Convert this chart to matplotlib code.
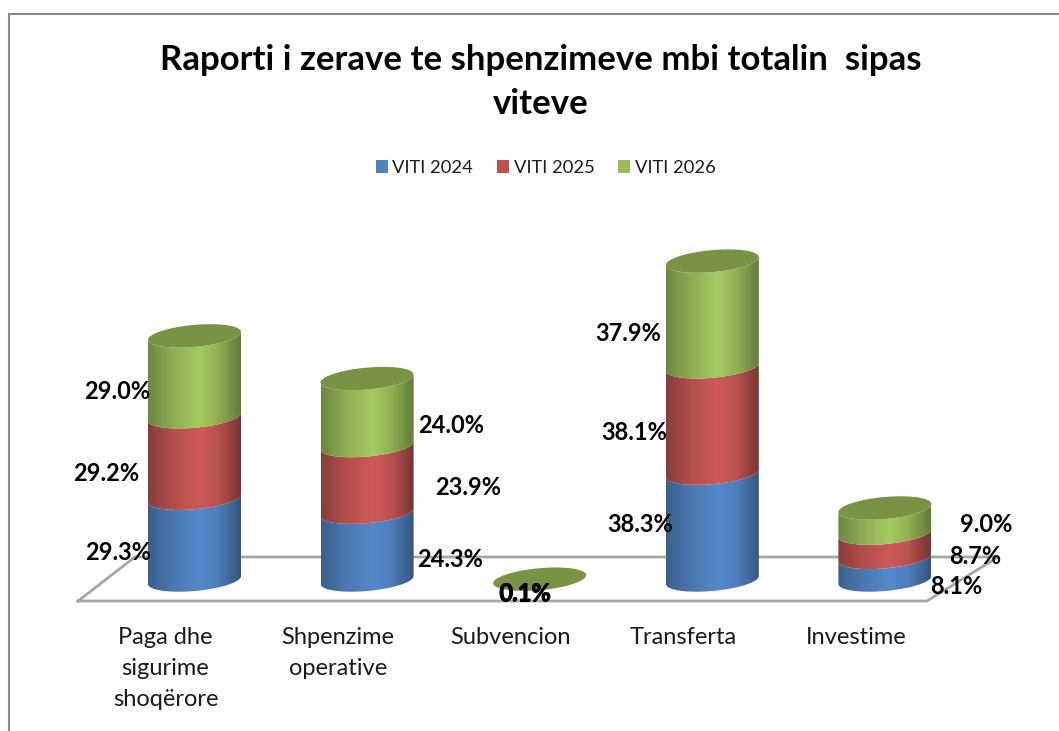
import numpy as np
import matplotlib
matplotlib.use('Agg')
import matplotlib.pyplot as plt
from matplotlib.path import Path
from matplotlib.patches import PathPatch, Patch
from matplotlib.colors import LinearSegmentedColormap

W, H = 1059, 731

categories = ['Paga dhe\nsigurime\nshoqërore', 'Shpenzime\noperative', 'Subvencion', 'Transferta', 'Investime']
years = ['VITI 2024', 'VITI 2025', 'VITI 2026']
v2024 = [29.3, 24.3, 0.1, 38.3, 8.1]
v2025 = [29.2, 23.9, 0.1, 38.1, 8.7]
v2026 = [29.0, 24.0, 0.1, 37.9, 9.0]
title = 'Raporti i zerave te shpenzimeve mbi totalin  sipas\nviteve'

# label offsets from the bar centre in pixels, x then y
off2024 = [(-76, 13), (83, 13), (-15, 14), (-72, -2), (71, 18)]
off2025 = [(-88, 16), (101, 9), (-15, 14.5), (-78, 13), (90, 11)]
off2026 = [(-77, 15), (84, 13), (-14.5, 14), (-84, 20), (101, 4)]

shades = {
    'VITI 2024': ['#3a5f8f', '#4a76ae', '#5589cc', '#4f7fbc', '#34567f'],
    'VITI 2025': ['#853e3c', '#b04e4b', '#cf5a57', '#bb5350', '#763634'],
    'VITI 2026': ['#6b8840', '#8cab52', '#a6cb62', '#92b155', '#617b3a'],
}
legend_col = ['#4f81bd', '#c0504d', '#9bbb59']
top_col = '#7a9244'

plt.rcParams['font.family'] = ['Lato', 'DejaVu Sans']

# pixel scale of the plot
x0, dx = 194.5, 172.6
y0, dy = 580.0, 2.79
half_w = 46.5 / dx
semi_b = 11.0 / dy
tilt = 4.0 / dy

fig = plt.figure(figsize=(W / 100, H / 100), dpi=100)
# chrome in pixel coordinates
bg = fig.add_axes([0, 0, 1, 1])
bg.set_xlim(0, W)
bg.set_ylim(H, 0)
bg.axis('off')
bg.plot([8.5, 8.5, W], [H, 14, 14], color='#8c8c8c', lw=1.5, solid_joinstyle='miter')
floor = '#a6a6a6'
bg.plot([78, 135, 998, 927, 78], [601, 557, 557, 601, 601], color=floor, lw=2)

ax = fig.add_axes([0, 0, 1, 1], zorder=2)
ax.patch.set_alpha(0)
ax.axis('off')


def rim(x, y, t):
    return x + half_w * np.cos(t), y + semi_b * np.sin(t) + tilt * np.cos(t)


def draw_segment(x, low, high, colors):
    # sides: lower rim front half, upper rim front half back again
    t = np.linspace(np.pi, 2 * np.pi, 60)
    xl, yl = rim(x, low, t)
    xh, yh = rim(x, high, t[::-1])
    verts = np.column_stack([np.r_[xl, xh, xl[0]], np.r_[yl, yh, yl[0]]])
    codes = [Path.MOVETO] + [Path.LINETO] * (len(verts) - 2) + [Path.CLOSEPOLY]
    patch = PathPatch(Path(verts, codes), fc='none', ec='none', transform=ax.transData)
    ax.add_patch(patch)
    cmap = LinearSegmentedColormap.from_list('c', list(zip([0, 0.25, 0.55, 0.75, 1], colors)))
    grad = np.linspace(0, 1, 200).reshape(1, -1)
    im = ax.imshow(grad, cmap=cmap, aspect='auto', zorder=3,
                   extent=[x - half_w, x + half_w, low - 2 * semi_b, high + 2 * semi_b])
    im.set_clip_path(patch)


for i in range(len(categories)):
    low = 0.0
    for name, vals in zip(years, [v2024, v2025, v2026]):
        if vals[i] >= 1:
            draw_segment(i, low, low + vals[i], shades[name])
        low += vals[i]
    t = np.linspace(0, 2 * np.pi, 120)
    xt, yt = rim(i, low, t)
    ax.fill(xt, yt, color=top_col, lw=0, zorder=4)

ax.set_xlim(-x0 / dx, (W - x0) / dx)
ax.set_ylim((y0 - H) / dy, y0 / dy)

# value labels
for vals, offs, base in [(v2024, off2024, 0), (v2025, off2025, 1), (v2026, off2026, 2)]:
    for i, v in enumerate(vals):
        below = sum(s[i] for s in [v2024, v2025, v2026][:base])
        px = x0 + dx * i + offs[i][0]
        py = y0 - dy * (below + v / 2) + offs[i][1]
        fig.text(px / W, 1 - py / H, '%.1f%%' % v, fontsize=17, fontweight='bold',
                 color='black', ha='center', va='center', zorder=10)

fig.text(541 / W, 1 - 82 / H, title, fontsize=25, fontweight='bold', color='black',
         ha='center', va='center', linespacing=1.5)

for i, c in enumerate(categories):
    fig.text((x0 + dx * i - 29) / W, 1 - 627 / H, c, fontsize=17, color='#1a1a1a',
             ha='center', va='top', linespacing=1.6)

handles = [Patch(fc=c, ec='none') for c in legend_col]
fig.legend(handles, years, loc='center', bbox_to_anchor=(545.5 / W, 1 - 168 / H), ncol=3, frameon=False,
           fontsize=13.2, handlelength=0.65, handleheight=0.65, handletextpad=0.27, columnspacing=1.28,
           labelcolor='#1a1a1a')

fig.savefig('out.png', dpi=100)
